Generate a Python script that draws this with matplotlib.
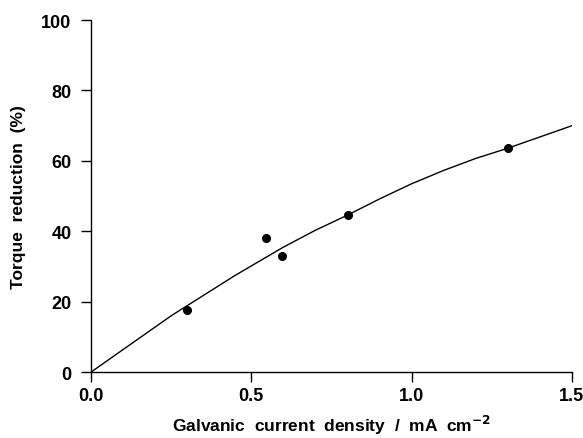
import matplotlib
matplotlib.use("Agg")
import matplotlib.pyplot as plt

# measured points
current = [0.30, 0.545, 0.597, 0.803, 1.30]
torque = [17.7, 38.0, 32.9, 44.6, 63.6]

# fitted curve
curve_x = [0.0, 0.25, 0.45, 0.6, 0.7, 0.8, 0.9, 1.0, 1.1, 1.2, 1.3, 1.4, 1.5]
curve_y = [0.0, 16.0, 27.5, 35.5, 40.3, 44.6, 49.2, 53.5, 57.3, 60.7, 63.6, 66.8, 70.0]

x_ticks = [0.0, 0.5, 1.0, 1.5]
y_ticks = [0, 20, 40, 60, 80, 100]

plt.rcParams['font.family'] = ['Liberation Sans', 'DejaVu Sans']
plt.rcParams['font.weight'] = 'bold'

fig = plt.figure(figsize=(5.83, 4.39), dpi=100)
ax = fig.add_axes([0.156, 0.150, 0.825, 0.802])

ax.plot(curve_x, curve_y, color='black', lw=1.0)
ax.plot(current, torque, 'o', color='black', ms=5.5)

ax.set_xlim(0, 1.5)
ax.set_ylim(0, 100)
ax.set_xticks(x_ticks)
ax.set_xticklabels([f'{v:.1f}' for v in x_ticks])
ax.set_yticks(y_ticks)

for side in ['top', 'right']:
    ax.spines[side].set_visible(False)
for side in ['left', 'bottom']:
    ax.spines[side].set_linewidth(1.0)

ax.tick_params(direction='out', length=7.5, width=1.0, labelsize=13)
ax.tick_params(axis='x', pad=3.5)
ax.tick_params(axis='y', pad=6.5)

ax.set_xlabel('Galvanic  current  density  /  mA  cm$^{\\mathbf{-2}}$',
              fontsize=12.5, fontweight='bold', labelpad=6)
ax.set_ylabel('Torque  reduction  (%)', fontsize=12.5, fontweight='bold', labelpad=11)

fig.savefig('out.png', dpi=100)
